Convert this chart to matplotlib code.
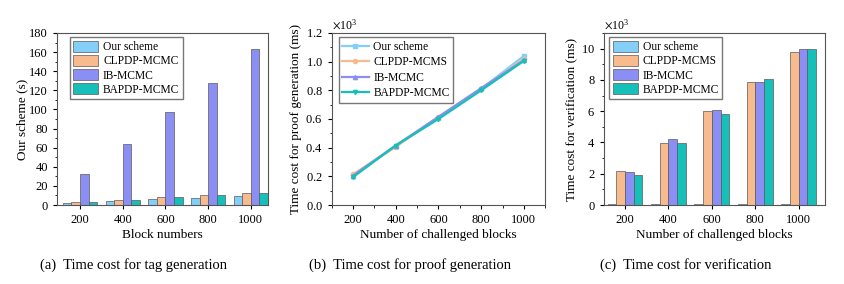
import numpy as np
import matplotlib
matplotlib.use('Agg')
import matplotlib.pyplot as plt
from matplotlib.ticker import MultipleLocator, ScalarFormatter

plt.rcParams['font.family'] = ['Liberation Serif', 'DejaVu Serif']
plt.rcParams['mathtext.fontset'] = 'stix'
plt.rcParams['font.size'] = 9

blocks = [200, 400, 600, 800, 1000]
schemes_a = ['Our scheme', 'CLPDP-MCMC', 'IB-MCMC', 'BAPDP-MCMC']
schemes_bc = ['Our scheme', 'CLPDP-MCMS', 'IB-MCMC', 'BAPDP-MCMC']

# (a) tag generation time (s)
tag_our = [2, 4, 6, 7, 9]
tag_clpdp = [3, 5, 8, 11, 13]
tag_ib = [32, 64, 97, 128, 163]
tag_bapdp = [3, 5, 8, 10, 13]

# (b) proof generation time (ms)
proof_our = [210, 415, 610, 810, 1040]
proof_clpdp = [215, 405, 615, 810, 1020]
proof_ib = [205, 415, 615, 815, 1010]
proof_bapdp = [195, 415, 600, 800, 1005]

# (c) verification time (ms)
ver_our = [50, 50, 50, 50, 50]
ver_clpdp = [2150, 3950, 6000, 7850, 9800]
ver_ib = [2100, 4200, 6050, 7850, 10000]
ver_bapdp = [1950, 3950, 5800, 8050, 9950]

colors = ['#84cff7', '#f7bb8e', '#8b8ef2', '#16c0b8']
markers = ['s', 'o', '^', 'v']
edge = '#5a5a5a'

fig = plt.figure(figsize=(8.44, 2.84), dpi=100)
ax_a = fig.add_axes([0.0675, 0.278, 0.25, 0.606])
ax_b = fig.add_axes([0.393, 0.278, 0.253, 0.606])
ax_c = fig.add_axes([0.716, 0.278, 0.261, 0.606])

leg_kw = dict(loc='upper left', fancybox=False, edgecolor='#777777', framealpha=1,
              borderpad=0.3, handletextpad=0.4, fontsize=8.3, borderaxespad=0)


def style(ax):
    ax.tick_params(which='both', direction='out', top=False, right=False, labelsize=9)
    ax.tick_params(which='major', length=3)
    ax.tick_params(which='minor', length=1.8)
    for s in ax.spines.values():
        s.set_color('#555555')
        s.set_linewidth(0.8)


def sci(ax):
    f = ScalarFormatter(useMathText=True)
    f.set_powerlimits((3, 3))
    ax.yaxis.set_major_formatter(f)
    ax.yaxis.get_offset_text().set_fontsize(8.5)


x = np.arange(len(blocks))
w = 0.2

# (a)
for i, vals in enumerate([tag_our, tag_clpdp, tag_ib, tag_bapdp]):
    ax_a.bar(x + (i - 1.5) * w, vals, w, color=colors[i], edgecolor=edge,
             linewidth=0.5, label=schemes_a[i])
ax_a.set_xticks(x)
ax_a.set_xticklabels(blocks)
ax_a.set_xlim(-0.54, 4.4)
ax_a.set_ylim(0, 180)
ax_a.yaxis.set_major_locator(MultipleLocator(20))
ax_a.yaxis.set_minor_locator(MultipleLocator(10))
ax_a.set_xlabel('Block numbers', fontsize=9.5, labelpad=2)
ax_a.set_ylabel('Our scheme (s)', fontsize=9.5, labelpad=1)
ax_a.legend(bbox_to_anchor=(0.06, 0.975), handlelength=2.2, handleheight=1.1,
            labelspacing=0.15, **leg_kw)
style(ax_a)

# (b)
for i, vals in enumerate([proof_our, proof_clpdp, proof_ib, proof_bapdp]):
    ax_b.plot(blocks, vals, color=colors[i], marker=markers[i], markersize=3,
              linewidth=1.6, label=schemes_bc[i])
ax_b.set_xlim(100, 1100)
ax_b.set_ylim(0, 1200)
ax_b.set_xticks(blocks)
ax_b.xaxis.set_minor_locator(MultipleLocator(100))
ax_b.yaxis.set_major_locator(MultipleLocator(200))
ax_b.yaxis.set_minor_locator(MultipleLocator(100))
sci(ax_b)
ax_b.set_xlabel('Number of challenged blocks', fontsize=9.5, labelpad=2)
ax_b.set_ylabel('Time cost for proof generation (ms)', fontsize=9.5, labelpad=2)
ax_b.legend(bbox_to_anchor=(0.033, 0.975), handlelength=2.3, labelspacing=0.3,
            **leg_kw)
style(ax_b)

# (c)
for i, vals in enumerate([ver_our, ver_clpdp, ver_ib, ver_bapdp]):
    ax_c.bar(x + (i - 1.5) * w, vals, w, color=colors[i], edgecolor=edge,
             linewidth=0.5, label=schemes_bc[i])
ax_c.set_xticks(x)
ax_c.set_xticklabels(blocks)
ax_c.set_xlim(-0.48, 4.6)
ax_c.set_ylim(0, 11000)
ax_c.yaxis.set_major_locator(MultipleLocator(2000))
ax_c.yaxis.set_minor_locator(MultipleLocator(1000))
sci(ax_c)
ax_c.set_xlabel('Number of challenged blocks', fontsize=9.5, labelpad=2)
ax_c.set_ylabel('Time cost for verification (ms)', fontsize=9.5, labelpad=2)
ax_c.legend(bbox_to_anchor=(0.022, 0.975), handlelength=2.2, handleheight=1.1,
            labelspacing=0.15, **leg_kw)
style(ax_c)

fig.text(133 / 844, 0.067, '(a)  Time cost for tag generation', ha='center', va='center', fontsize=10.5)
fig.text(410 / 844, 0.067, '(b)  Time cost for proof generation', ha='center', va='center', fontsize=10.5)
fig.text(686 / 844, 0.067, '(c)  Time cost for verification', ha='center', va='center', fontsize=10.5)

fig.savefig('out.png', dpi=100)
